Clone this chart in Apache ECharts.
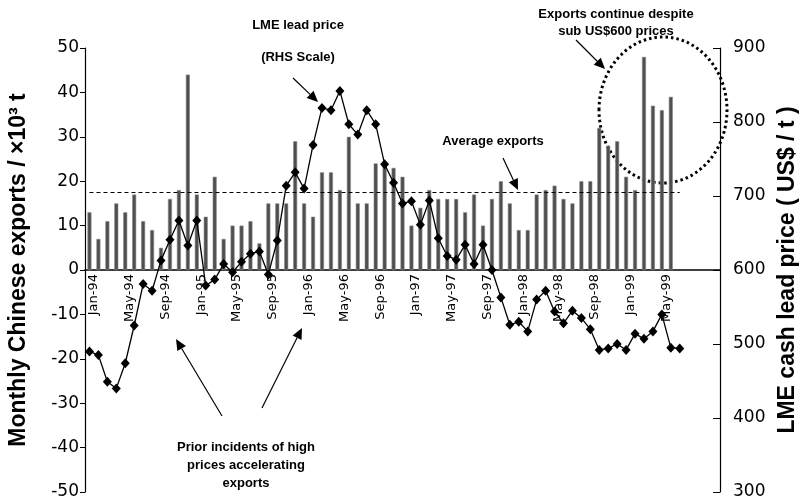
<!DOCTYPE html>
<html>
<head>
<meta charset="utf-8">
<script src="https://cdn.jsdelivr.net/npm/echarts@6/dist/echarts.min.js"></script>
<style>
  html, body { margin: 0; padding: 0; background: #fff; }
  #chart { width: 800px; height: 504px; }
</style>
</head>
<body>
<div id="chart"></div>
<script>
// month categories (axis runs to Nov-99, data stops mid-1999)
const months = [
  'Jan-94','Feb-94','Mar-94','Apr-94','May-94','Jun-94','Jul-94','Aug-94','Sep-94','Oct-94','Nov-94','Dec-94',
  'Jan-95','Feb-95','Mar-95','Apr-95','May-95','Jun-95','Jul-95','Aug-95','Sep-95','Oct-95','Nov-95','Dec-95',
  'Jan-96','Feb-96','Mar-96','Apr-96','May-96','Jun-96','Jul-96','Aug-96','Sep-96','Oct-96','Nov-96','Dec-96',
  'Jan-97','Feb-97','Mar-97','Apr-97','May-97','Jun-97','Jul-97','Aug-97','Sep-97','Oct-97','Nov-97','Dec-97',
  'Jan-98','Feb-98','Mar-98','Apr-98','May-98','Jun-98','Jul-98','Aug-98','Sep-98','Oct-98','Nov-98','Dec-98',
  'Jan-99','Feb-99','Mar-99','Apr-99','May-99','Jun-99','Jul-99','Aug-99','Sep-99','Oct-99','Nov-99'
];
const lastLabelIndex = 66; // no labels shown after Jul-99

// monthly Chinese exports (x10^3 t), Jan-94 .. Jun-99
const exportsKt = [
  13, 7, 11, 15, 13, 17, 11, 9, 5, 16, 18, 44,
  17, 12, 21, 7, 10, 10, 11, 6, 15, 15, 15, 29,
  15, 12, 22, 22, 18, 30, 15, 15, 24, 23.5, 23, 21,
  10, 14, 18, 16, 16, 16, 13, 17, 10, 16, 20, 15,
  9, 9, 17, 18, 19, 16, 15, 20, 20, 32, 28, 29,
  21, 18, 48, 37, 36, 39
];

// LME cash lead price (US$/t), Jan-94 .. Jul-99
const leadPrice = [
  490, 485, 449, 440, 474, 525, 581, 572, 613, 641, 667, 633,
  667, 579, 587, 608, 597, 611, 622, 625, 594, 640, 714, 732,
  710, 769, 819, 816, 842, 797, 783, 816, 797, 743, 718, 690,
  693, 661, 694, 643, 619, 614, 634, 608, 634, 600, 563, 526,
  530, 517, 560, 572, 544, 528, 545, 535, 520, 492, 494, 500,
  492, 514, 507, 517, 540, 495, 494
];

const avgExports = 17.5;
const avgFrom = 'Jan-94';
const avgTo = 'Jul-99';

const leftTicks = { min: -50, max: 50, interval: 10 };
const rightTicks = { min: 300, max: 900, interval: 100 };

const gridTop = 48, gridBottom = 12, chartH = 504;
// x axis sits on the left-axis zero, which is half way down the plot
const zeroOffset = -(chartH - gridTop - gridBottom) / 2;

const annoFont = 'bold 13px "Liberation Sans", Arial, sans-serif';
const titleStyle = { fontSize: 23, fontWeight: 'bold', fontFamily: 'Liberation Sans', color: '#000' };

function arrow(x1, y1, x2, y2) {
  const a = Math.atan2(y2 - y1, x2 - x1);
  const len = 11, w = 5;
  const bx = x2 - len * Math.cos(a), by = y2 - len * Math.sin(a);
  return [
    {
      type: 'line', silent: true,
      shape: { x1: x1, y1: y1, x2: bx, y2: by },
      style: { stroke: '#000', lineWidth: 1.2 }
    },
    {
      type: 'polygon', silent: true,
      shape: {
        points: [
          [x2, y2],
          [bx + w * Math.sin(a), by - w * Math.cos(a)],
          [bx - w * Math.sin(a), by + w * Math.cos(a)]
        ]
      },
      style: { fill: '#000' }
    }
  ];
}

function label(text, x, y) {
  return {
    type: 'text', silent: true, x: x, y: y,
    style: { text: text, font: annoFont, fill: '#000', align: 'center', verticalAlign: 'middle' }
  };
}

const chart = echarts.init(document.getElementById('chart'));

chart.setOption({
  backgroundColor: '#fff',
  animation: false,
  grid: { left: 85, right: 80, top: gridTop, bottom: gridBottom, containLabel: false, outerBoundsMode: 'none' },
  xAxis: {
    type: 'category',
    data: months,
    boundaryGap: true,
    offset: zeroOffset,
    axisLine: { onZero: false, lineStyle: { color: '#000', width: 1.5 } },
    axisTick: { interval: 3, length: 5, lineStyle: { color: '#000' } },
    axisLabel: {
      interval: 3, rotate: 90, margin: 4,
      fontSize: 13, fontFamily: 'DejaVu Sans', color: '#000',
      verticalAlign: 'top', lineHeight: 9,
      formatter: (v, i) => (i > lastLabelIndex ? '' : v)
    },
    splitLine: { show: false }
  },
  yAxis: [
    {
      type: 'value',
      min: leftTicks.min, max: leftTicks.max, interval: leftTicks.interval,
      name: 'Monthly Chinese exports / ×10³ t',
      nameLocation: 'middle', nameRotate: 90, nameGap: 55,
      nameTextStyle: titleStyle,
      axisLine: { show: true, lineStyle: { color: '#000', width: 1.2 } },
      axisTick: { show: true, length: 5, lineStyle: { color: '#000' } },
      axisLabel: { fontSize: 17, fontFamily: 'DejaVu Sans', color: '#000', margin: 6 },
      splitLine: { show: false }
    },
    {
      type: 'value',
      min: rightTicks.min, max: rightTicks.max, interval: rightTicks.interval,
      name: 'LME cash lead price ( US$ / t )',
      nameLocation: 'middle', nameRotate: 90, nameGap: 56,
      nameTextStyle: titleStyle,
      axisLine: { show: true, lineStyle: { color: '#000', width: 1.2 } },
      axisTick: { show: true, inside: true, length: 7, lineStyle: { color: '#000' } },
      axisLabel: { fontSize: 17, fontFamily: 'DejaVu Sans', color: '#000', margin: 13 },
      splitLine: { show: false }
    }
  ],
  series: [
    {
      name: 'Exports',
      type: 'bar',
      yAxisIndex: 0,
      data: exportsKt,
      barWidth: 4,
      itemStyle: { color: '#4f4f4f', borderColor: '#8a8a8a', borderWidth: 0.6 },
      markLine: {
        silent: true,
        symbol: ['none', 'none'],
        label: { show: false },
        lineStyle: { color: '#000', width: 1, type: [4, 3] },
        data: [[{ coord: [avgFrom, avgExports] }, { coord: [avgTo, avgExports] }]]
      }
    },
    {
      name: 'LME lead price',
      type: 'line',
      yAxisIndex: 1,
      data: leadPrice,
      symbol: 'diamond',
      symbolSize: [9, 10],
      showAllSymbol: true,
      itemStyle: { color: '#000' },
      lineStyle: { color: '#000', width: 1.3 },
      z: 5
    }
  ],
  graphic: [
    label('LME lead price', 298, 25),
    label('(RHS Scale)', 298, 57),
    ...arrow(293, 78, 318, 102),
    label('Exports continue despite', 616, 14),
    label('sub US$600 prices', 616, 31),
    ...arrow(576, 40, 605, 69),
    label('Average exports', 493, 141),
    ...arrow(503, 158, 518, 190),
    label('Prior incidents of high', 246, 447),
    label('prices accelerating', 246, 465),
    label('exports', 246, 483),
    ...arrow(222, 416, 176, 339),
    ...arrow(262, 408, 302, 328),
    {
      type: 'ellipse', silent: true,
      shape: { cx: 663, cy: 110, rx: 64, ry: 73 },
      style: { fill: 'none', stroke: '#000', lineWidth: 3, lineDash: [2.5, 3] }
    }
  ]
});
</script>
</body>
</html>
